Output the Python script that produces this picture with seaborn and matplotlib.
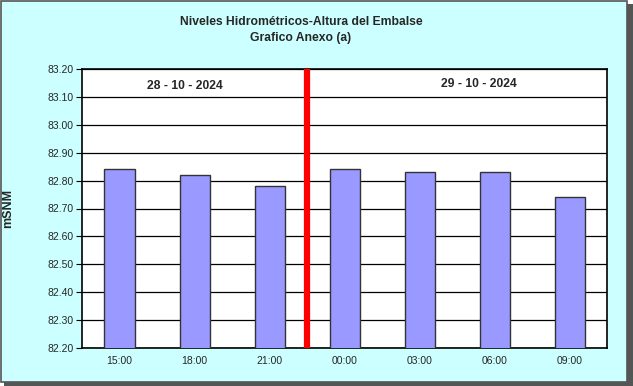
import matplotlib
matplotlib.use("Agg")
import matplotlib.pyplot as plt
import seaborn as sns
import pandas as pd
import numpy as np
from matplotlib.patches import Rectangle

horas = ["15:00", "18:00", "21:00", "00:00", "03:00", "06:00", "09:00"]
niveles = [82.84, 82.82, 82.78, 82.84, 82.83, 82.83, 82.74]
fechas = ["28 - 10 - 2024", "29 - 10 - 2024"]
y_ticks = [82.20, 82.30, 82.40, 82.50, 82.60, 82.70, 82.80, 82.90, 83.00, 83.10, 83.20]

sns.set_style("white")
plt.rcParams['font.family'] = ['Liberation Sans', 'DejaVu Sans']

df = pd.DataFrame({"hora": horas, "nivel": niveles})

fig = plt.figure(figsize=(6.33, 3.86), dpi=100)
ax = fig.add_axes([82/633, 1-348/386, (607-82)/633, (348-69)/386])
ax.set_facecolor("white")

sns.barplot(data=df, x="hora", y="nivel", color="#9999FF", width=0.4,
            edgecolor="#333333", linewidth=1.0, saturation=1, ax=ax, zorder=3)

ax.set_ylim(82.20, 83.20)
ax.set_xlim(-0.5, len(horas) - 0.5)
ax.set_yticks(y_ticks)
ax.set_yticklabels([f"{v:.2f}" for v in y_ticks], fontsize=7.5)
ax.set_xticks(range(len(horas)))
ax.set_xticklabels(horas, fontsize=7.5)
ax.tick_params(axis="x", length=0, pad=6)
ax.set_xticks(np.arange(-0.5, len(horas) + 0.5, 1), minor=True)
ax.tick_params(axis="x", which="minor", length=4, width=0.8, color="black", direction="out")
ax.tick_params(axis="y", length=4, width=0.8, color="black", direction="out", left=True, pad=2)
ax.grid(axis="y", color="black", linewidth=0.9, zorder=0)
ax.set_axisbelow(True)
for s in ax.spines.values():
    s.set_color("black")
    s.set_linewidth(1.2)
ax.set_xlabel("")
ax.set_ylabel("mSNM", fontsize=9, fontweight="bold")
ax.yaxis.set_label_coords(-68/525, 0.5)

ax.axvline(2.5, color="#FF0000", linewidth=4.5, zorder=5)

ax.text(0.873, 83.14, fechas[0], ha="center", va="center", fontsize=8.7, fontweight="bold")
ax.text(4.787, 83.145, fechas[1], ha="center", va="center", fontsize=8.7, fontweight="bold")

fig.text(301/633, 1-22/386, "Niveles Hidrométricos-Altura del Embalse", ha="center", va="center",
         fontsize=8.7, fontweight="bold")
fig.text(301/633, 1-38/386, "Grafico Anexo (a)", ha="center", va="center",
         fontsize=8.7, fontweight="bold")

# frame with shadow
fig.patches.append(Rectangle((4/633, 0), 629/633, 382/386, transform=fig.transFigure,
                             facecolor="#555555", edgecolor="none", zorder=-2))
fig.patches.append(Rectangle((0.5/633, 4/386), 626/633, 381/386, transform=fig.transFigure,
                             facecolor="#CCFFFF", edgecolor="#555555", linewidth=1.2, zorder=-1))
fig.patch.set_facecolor("white")

fig.savefig("out.png", dpi=100, facecolor=fig.get_facecolor())
